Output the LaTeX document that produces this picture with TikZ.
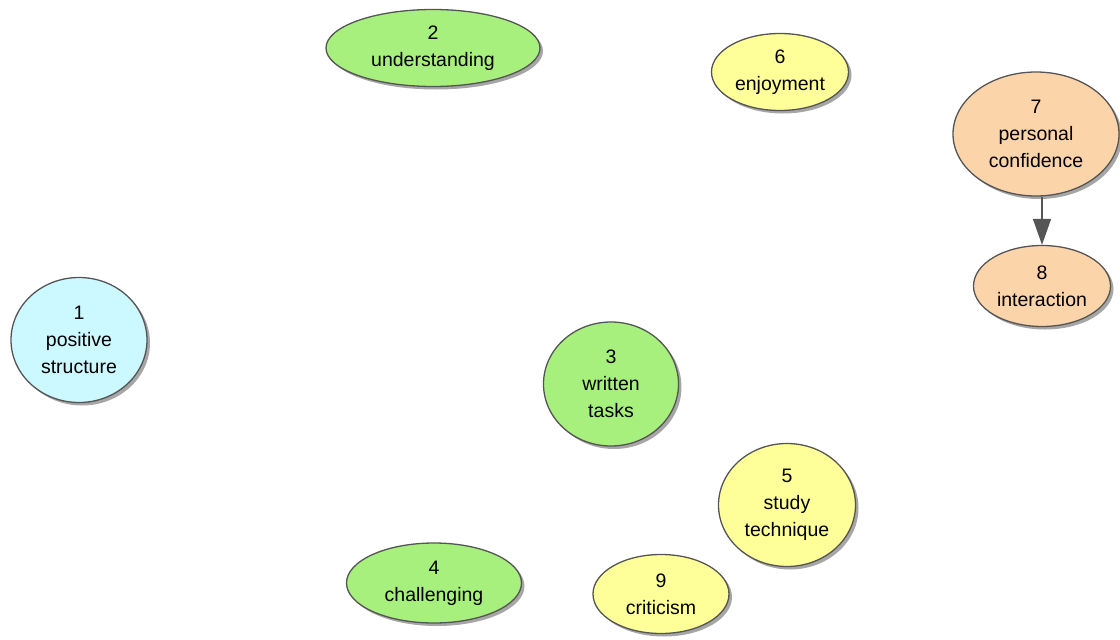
\documentclass[tikz,border=0pt]{standalone}
\usepackage{fontspec}
\setmainfont{Liberation Sans}
\usetikzlibrary{shapes.geometric,shadows,arrows.meta}
\definecolor{cyanfill}{HTML}{CCF8FF}
\definecolor{greenfill}{HTML}{A8F07E}
\definecolor{yellowfill}{HTML}{FFFF99}
\definecolor{peachfill}{HTML}{FCD4AA}
\definecolor{edgegray}{HTML}{555555}
\tikzset{
  concept/.style={ellipse, draw=edgegray, line width=1.3pt, inner sep=0pt,
    align=center, font=\fontsize{19.5}{27}\selectfont,
    drop shadow={shadow xshift=3pt, shadow yshift=-3pt, fill=black, opacity=0.35}},
  link/.style={draw=edgegray, line width=1.5pt, -{Triangle[length=26pt,width=18pt]}}
}
\begin{document}
\begin{tikzpicture}[x=1pt,y=-1pt]
\useasboundingbox (0,0) rectangle (1120,640);
\node[concept, fill=cyanfill, minimum width=136pt, minimum height=125pt] (n1) at (79,340) {1\\positive\\structure};
\node[concept, fill=greenfill, minimum width=214pt, minimum height=77pt] (n2) at (433,48) {2\\understanding};
\node[concept, fill=greenfill, minimum width=135pt, minimum height=124pt] (n3) at (611,384) {3\\written\\tasks};
\node[concept, fill=greenfill, minimum width=175pt, minimum height=80pt] (n4) at (434,583) {4\\challenging};
\node[concept, fill=yellowfill, minimum width=137pt, minimum height=123pt] (n5) at (787,505) {5\\study\\technique};
\node[concept, fill=yellowfill, minimum width=137pt, minimum height=77pt] (n6) at (780,72) {6\\enjoyment};
\node[concept, fill=peachfill, minimum width=166pt, minimum height=124pt] (n7) at (1036,134) {7\\personal\\confidence};
\node[concept, fill=peachfill, minimum width=137pt, minimum height=81pt] (n8) at (1042,286) {8\\interaction};
\node[concept, fill=yellowfill, minimum width=136pt, minimum height=79pt] (n9) at (661,594) {9\\criticism};
\draw[link] (n7.south -| n8.north) -- (n8.north);
\end{tikzpicture}
\end{document}
